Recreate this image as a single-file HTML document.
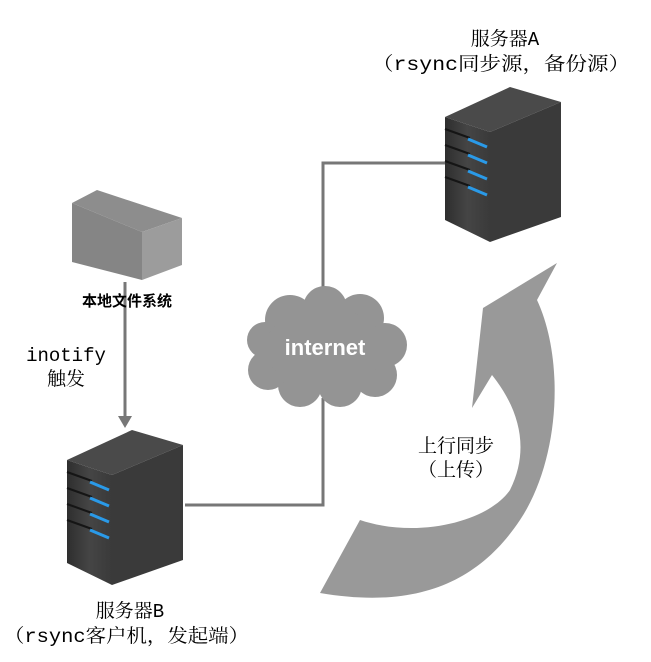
<!DOCTYPE html>
<html><head><meta charset="utf-8"><style>
html,body{margin:0;padding:0;background:#fff;}
svg{display:block;}
.t{font-family:"Liberation Mono","Noto Serif CJK SC",serif;font-size:19px;fill:#000;}
</style></head><body>
<svg width="651" height="662" viewBox="0 0 651 662" xmlns="http://www.w3.org/2000/svg">
<defs>
<linearGradient id="fr" x1="0" x2="1" y1="0" y2="0"><stop offset="0" stop-color="#2e2e2e"/><stop offset="0.5" stop-color="#454545"/><stop offset="1" stop-color="#3a3a3a"/></linearGradient>
<g id="srv">
<polygon points="67,460 132,430 183,445 112,475" fill="#4a4a4a"/>
<polygon points="112,475 183,445 183,560 112,585" fill="#3a3a3a"/>
<polygon points="67,460 112,475 112,585 67,563" fill="url(#fr)"/>
<g stroke="#151515" stroke-width="2">
<line x1="67" y1="472" x2="92" y2="481"/><line x1="67" y1="488" x2="92" y2="497"/><line x1="67" y1="504" x2="92" y2="513"/><line x1="67" y1="520" x2="92" y2="529"/>
</g>
<g stroke="#2a9ae8" stroke-width="3">
<line x1="90" y1="482" x2="109" y2="490"/><line x1="90" y1="498" x2="109" y2="506"/><line x1="90" y1="514" x2="109" y2="522"/><line x1="90" y1="530" x2="109" y2="538"/>
</g>
</g>
</defs>
<g stroke="#777" stroke-width="3" fill="none">
<polyline points="445,163 323,163 323,295"/>
<polyline points="323,398 323,505 185,505"/>
<line x1="125" y1="282" x2="125" y2="418"/>
</g>
<polygon points="118,416 132,416 125,428" fill="#777"/>
<polygon points="72,203 97,190 182,218 142,232" fill="#8d8d8d"/>
<polygon points="142,232 182,218 182,265 142,280" fill="#9c9c9c"/>
<polygon points="72,203 142,232 142,280 72,262" fill="#858585"/>
<use href="#srv"/>
<use href="#srv" transform="translate(378,-343)"/>
<g fill="#949494">
<circle cx="290" cy="320" r="25"/><circle cx="325" cy="308" r="22"/><circle cx="360" cy="318" r="24"/>
<circle cx="385" cy="345" r="22"/><circle cx="375" cy="375" r="22"/><circle cx="340" cy="385" r="22"/>
<circle cx="300" cy="385" r="22"/><circle cx="268" cy="370" r="20"/><circle cx="265" cy="340" r="18"/>
<ellipse cx="325" cy="348" rx="60" ry="40"/>
</g>
<text x="325" y="355" text-anchor="middle" font-family="Liberation Sans,sans-serif" font-weight="bold" font-size="22" fill="#fff">internet</text>
<path d="M557,263 L537,300 C565,360 560,460 520,520 C480,580 420,610 320,593 L360,520 C420,540 490,520 510,490 C530,450 520,410 492,375 L472,408 L483,308 Z" fill="#999"/>
<text class="t" x="505" y="45" text-anchor="middle">服务器A</text>
<text class="t" x="372" y="70" textLength="258" lengthAdjust="spacingAndGlyphs">（rsync同步源，备份源）</text>
<text x="127" y="306" text-anchor="middle" font-family="Liberation Sans,'Noto Sans CJK SC',sans-serif" font-weight="bold" font-size="15" fill="#000">本地文件系统</text>
<text class="t" x="66" y="361" text-anchor="middle" font-size="17">inotify</text>
<text class="t" x="66" y="385" text-anchor="middle" font-size="17">触发</text>
<text class="t" x="456" y="452" text-anchor="middle">上行同步</text>
<text class="t" x="456" y="476" text-anchor="middle">（上传）</text>
<text class="t" x="130" y="617" text-anchor="middle">服务器B</text>
<text class="t" x="4" y="642" textLength="245" lengthAdjust="spacingAndGlyphs">（rsync客户机，发起端）</text>
</svg>
</body></html>
